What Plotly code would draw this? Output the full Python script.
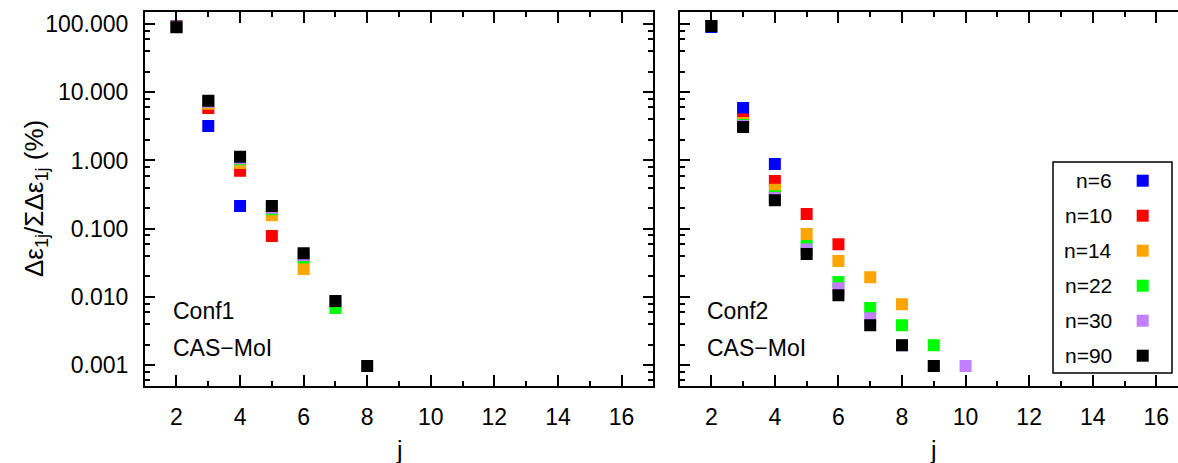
import plotly.graph_objects as go

# ---------------- data ----------------
series_names = ["n=6", "n=10", "n=14", "n=22", "n=30", "n=90"]
series_colors = ["#0000ff", "#ff0000", "#ffa500", "#00ff00", "#c080ff", "#000000"]

j_conf1 = [2, 3, 4, 5, 6, 7, 8]
conf1_n6 = [93.0, 3.21, 0.216, None, None, None, None]
conf1_n10 = [91.0, 5.86, 0.706, 0.078, None, None, None]
conf1_n14 = [90.8, 6.78, 0.916, 0.158, 0.0256, None, None]
conf1_n22 = [90.6, 7.3, 1.04, 0.192, 0.0379, 0.0069, None]
conf1_n30 = [90.3, 7.25, 1.08, 0.203, 0.0411, 0.0087, None]
conf1_n90 = [90.0, 7.5, 1.13, 0.215, 0.0435, 0.00873, 0.00097]

j_conf2 = [2, 3, 4, 5, 6, 7, 8, 9, 10]
conf2_n6 = [90.4, 5.87, 0.89, None, None, None, None, None, None]
conf2_n10 = [93.2, 4.0, 0.499, 0.164, 0.0594, None, None, None, None]
conf2_n14 = [93.3, 3.53, 0.372, 0.0834, 0.0335, 0.0195, 0.00783, None, None]
conf2_n22 = [93.4, 3.30, 0.30, 0.0556, 0.0165, 0.00686, 0.00386, 0.00196, None]
conf2_n30 = [93.5, 3.19, 0.281, 0.0497, 0.01345, 0.00489, 0.00196, 0.00097, 0.00097]
conf2_n90 = [93.5, 3.09, 0.262, 0.0425, 0.0106, 0.00386, 0.00196, 0.00097, None]

x_major = [2, 4, 6, 8, 10, 12, 14, 16]
x_labels = ["2", "4", "6", "8", "10", "12", "14", "16"]
x_minor = [1, 3, 5, 7, 9, 11, 13, 15, 17]
y_major = [0.001, 0.01, 0.1, 1, 10, 100]
y_labels = ["0.001", "0.010", "0.100", "1.000", "10.000", "100.000"]
y_minor = [m * d for d in [0.0001, 0.001, 0.01, 0.1, 1, 10] for m in (2, 4, 6, 8)]

panel_labels = [["Conf1", "CAS\u2212MoI"], ["Conf2", "CAS\u2212MoI"]]
y_title = "\u0394\u03b5<sub>1j</sub>/\u03a3\u0394\u03b5<sub>1j</sub> (%)"
x_title = "j"

# ---------------- figure ----------------
W, H = 1178, 463
FONT = "Liberation Sans, Arial, Helvetica, sans-serif"
FS = 23

conf1 = [conf1_n6, conf1_n10, conf1_n14, conf1_n22, conf1_n30, conf1_n90]
conf2 = [conf2_n6, conf2_n10, conf2_n14, conf2_n22, conf2_n30, conf2_n90]

fig = go.Figure()
for vals, name, col in zip(conf1, series_names, series_colors):
    fig.add_trace(go.Scatter(x=j_conf1, y=vals, mode="markers", name=name,
                             marker=dict(symbol="square", size=12, color=col, line=dict(width=0)),
                             xaxis="x", yaxis="y", showlegend=False))
for vals, name, col in zip(conf2, series_names, series_colors):
    fig.add_trace(go.Scatter(x=j_conf2, y=vals, mode="markers", name=name,
                             marker=dict(symbol="square", size=12, color=col, line=dict(width=0)),
                             xaxis="x2", yaxis="y2", showlegend=False))

px = lambda v: v / W
py = lambda v: 1 - v / H

lx0, lx1 = px(144.7), px(653.3)
rx0 = px(679.5)
unit = (653.3 - 144.7) / 16.0
r_upper = 1 + (W - 679.5) / unit
yd0, yd1 = py(385.7), py(12)

common_x = dict(type="linear", tickmode="array", tickvals=x_major, ticktext=x_labels,
                ticks="inside", ticklen=11, tickwidth=1.5, tickcolor="black",
                showline=True, linecolor="black", linewidth=1.5, showgrid=False, zeroline=False,
                tickfont=dict(family=FONT, size=FS, color="black"), ticklabelstandoff=10,
                minor=dict(tickmode="array", tickvals=x_minor, ticks="inside", ticklen=5,
                           tickwidth=1.5, tickcolor="black", showgrid=False))
common_y = dict(type="log", tickmode="array", tickvals=y_major, ticktext=y_labels,
                range=[-3.30103, 2.176091],
                ticks="inside", ticklen=11, tickwidth=1.5, tickcolor="black",
                showline=True, linecolor="black", linewidth=1.5, showgrid=False, zeroline=False,
                tickfont=dict(family=FONT, size=FS, color="black"), ticklabelstandoff=10,
                minor=dict(tickmode="array", tickvals=y_minor, ticks="inside", ticklen=6,
                           tickwidth=1.5, tickcolor="black", showgrid=False))

fig.update_layout(
    width=W, height=H, autosize=False,
    margin=dict(l=0, r=0, t=0, b=0),
    paper_bgcolor="white", plot_bgcolor="white",
    font=dict(family=FONT, size=FS, color="black"),
    showlegend=False,
    xaxis=dict(common_x, domain=[lx0, lx1], range=[1, 17], anchor="y", mirror="ticks"),
    yaxis=dict(common_y, domain=[yd0, yd1], anchor="x", mirror="ticks"),
    xaxis2=dict(common_x, domain=[rx0, 1.0], range=[1, r_upper], anchor="y2", mirror="ticks"),
    yaxis2=dict(common_y, domain=[yd0, yd1], anchor="x2", showticklabels=False, mirror=False),
)

ann = []
# panel labels
for (t1, t2), xl in zip(panel_labels, [171.0, 705.0]):
    ann.append(dict(text=t1, x=px(xl), y=py(311), xref="paper", yref="paper",
                    xanchor="left", yanchor="middle", showarrow=False,
                    font=dict(family=FONT, size=FS, color="black")))
    ann.append(dict(text=t2, x=px(xl), y=py(348), xref="paper", yref="paper",
                    xanchor="left", yanchor="middle", showarrow=False,
                    font=dict(family=FONT, size=FS, color="black")))
# x titles
for xc in [(144.7 + 653.3) / 2, (679.5 + 679.5 + 16 * unit) / 2]:
    ann.append(dict(text=x_title, x=px(xc), y=py(450), xref="paper", yref="paper",
                    xanchor="center", yanchor="middle", showarrow=False,
                    font=dict(family=FONT, size=FS + 2, color="black")))
# y title
ann.append(dict(text=y_title, x=px(35), y=py(199), xref="paper", yref="paper",
                xanchor="center", yanchor="middle", textangle=-90, showarrow=False,
                font=dict(family=FONT, size=26, color="black")))

shapes = []
# manual legend box
shapes.append(dict(type="rect", xref="paper", yref="paper",
                   x0=px(1053), x1=px(1172), y0=py(373), y1=py(162),
                   line=dict(color="black", width=1.5), fillcolor="white", layer="above"))
for i, (name, col) in enumerate(zip(series_names, series_colors)):
    yc = 180.7 + 35 * i
    ann.append(dict(text=name, x=px(1114), y=py(yc), xref="paper", yref="paper",
                    xanchor="right", yanchor="middle", showarrow=False,
                    font=dict(family=FONT, size=FS - 2, color="black")))
    shapes.append(dict(type="rect", xref="paper", yref="paper",
                       x0=px(1142.7 - 6), x1=px(1142.7 + 6), y0=py(yc + 6), y1=py(yc - 6),
                       line=dict(width=0), fillcolor=col, layer="above"))

fig.update_layout(annotations=ann, shapes=shapes)
fig.write_html("out.html")
